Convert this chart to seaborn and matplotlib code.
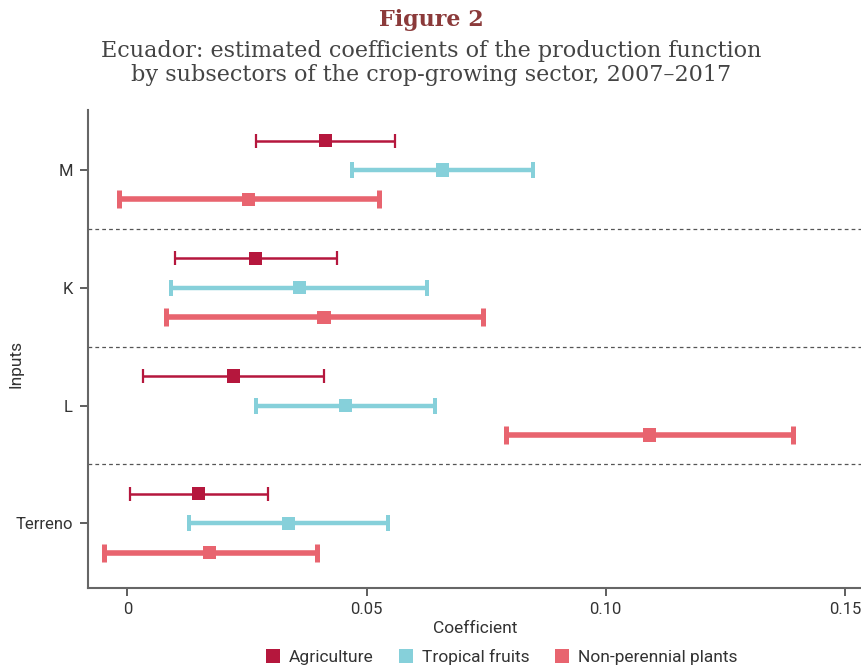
import matplotlib
matplotlib.use("Agg")
import matplotlib.pyplot as plt
import seaborn as sns
import pandas as pd
import numpy as np
from matplotlib.lines import Line2D

inputs = ["M", "K", "L", "Terreno"]
series = ["Agriculture", "Tropical fruits", "Non-perennial plants"]

agri_est = [0.0414, 0.0268, 0.0222, 0.0149]
agri_lo = [0.0269, 0.0099, 0.0033, 0.0005]
agri_hi = [0.0559, 0.0438, 0.0410, 0.0294]

trop_est = [0.0659, 0.0359, 0.0456, 0.0336]
trop_lo = [0.0469, 0.0092, 0.0269, 0.0128]
trop_hi = [0.0847, 0.0627, 0.0643, 0.0545]

nonp_est = [0.0253, 0.0411, 0.1091, 0.0172]
nonp_lo = [-0.0017, 0.0080, 0.0792, -0.0050]
nonp_hi = [0.0525, 0.0743, 0.1392, 0.0396]

xticks = [0, 0.05, 0.10, 0.15]
xticklabels = ["0", "0.05", "0.10", "0.15"]

colors = {"Agriculture": "#B5173D", "Tropical fruits": "#86D0DA", "Non-perennial plants": "#E8646F"}
lws = {"Agriculture": 1.8, "Tropical fruits": 3.2, "Non-perennial plants": 4.0}
caps = {"Agriculture": 5, "Tropical fruits": 5.5, "Non-perennial plants": 6.5}
offsets = {"Agriculture": -0.25, "Tropical fruits": 0.0, "Non-perennial plants": 0.25}

rows = []
for s, est, lo, hi in [(series[0], agri_est, agri_lo, agri_hi),
                       (series[1], trop_est, trop_lo, trop_hi),
                       (series[2], nonp_est, nonp_lo, nonp_hi)]:
    for i, inp in enumerate(inputs):
        rows.append(dict(series=s, input=inp, idx=i, est=est[i], lo=lo[i], hi=hi[i]))
df = pd.DataFrame(rows)
df["ypos"] = df["idx"] + df["series"].map(offsets)

sns.set_theme(style="white")
plt.rcParams["font.family"] = ["Roboto", "DejaVu Sans"]

fig = plt.figure(figsize=(8.62, 6.68), dpi=100)
ax = fig.add_axes([88/862, 1 - 588/668, (862-88)/862, (588-110)/668])

for s in series:
    d = df[df["series"] == s]
    ax.errorbar(d["est"], d["ypos"], xerr=[d["est"] - d["lo"], d["hi"] - d["est"]],
                fmt="none", ecolor=colors[s], elinewidth=lws[s], capsize=caps[s],
                capthick=lws[s] * 0.9 if s != "Agriculture" else 1.6, zorder=2)
sns.scatterplot(data=df, x="est", y="ypos", hue="series", palette=colors, marker="s",
                s=92, linewidth=0, ax=ax, legend=False, zorder=3)

for yb in [0.5, 1.5, 2.5]:
    ax.axhline(yb, color="#555555", lw=0.9, ls=(0, (3, 2.5)), zorder=1)

ax.set_ylim(3.55, -0.51)
ax.set_xlim(-0.00826, 0.1536)
ax.set_yticks(range(len(inputs)))
ax.set_yticklabels(inputs)
ax.set_xticks(xticks)
ax.set_xticklabels(xticklabels)
ax.tick_params(axis="both", labelsize=12, colors="#333333", length=6, width=1.1,
               direction="out", bottom=True, left=True, pad=4)
ax.tick_params(axis="y", pad=5)
ax.set_xlabel("Coefficient", fontsize=12.5, color="#333333", labelpad=3)
ax.set_ylabel("Inputs", fontsize=12.5, color="#333333")
ax.yaxis.set_label_coords((24 - 88) / 774, (588 - 364) / 478)
for sp in ["top", "right"]:
    ax.spines[sp].set_visible(False)
for sp in ["left", "bottom"]:
    ax.spines[sp].set_color("#666666")
    ax.spines[sp].set_linewidth(1.5)

handles = [Line2D([0], [0], marker="s", ls="none", markersize=10,
                  markerfacecolor=colors[s], markeredgewidth=0) for s in series]
fig.legend(handles, series, loc="center", bbox_to_anchor=(500/862, 1 - 657/668),
           ncol=3, frameon=False, fontsize=12.5, handletextpad=0.3, columnspacing=1.3,
           handlelength=1.2, labelcolor="#333333", borderpad=0)

fig.text(0.5, 1 - 20/668, "Figure 2", ha="center", va="center", fontsize=16,
         fontweight="bold", color="#8B3A3A", family=["DejaVu Serif"])
fig.text(0.5, 1 - 63/668, "Ecuador: estimated coefficients of the production function\nby subsectors of the crop-growing sector, 2007\u20132017",
         ha="center", va="center", fontsize=16, color="#444444", linespacing=1.12,
         family=["DejaVu Serif"])

fig.savefig("out.png", dpi=100)
